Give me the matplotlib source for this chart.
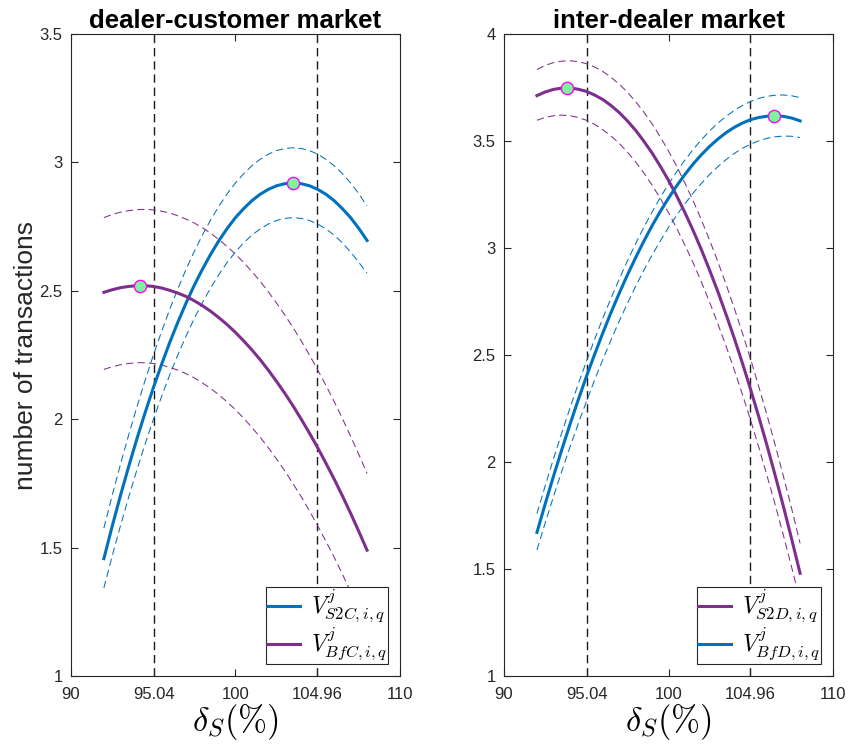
"""
Number of transactions vs. delta_S for the dealer-customer and
inter-dealer markets, with confidence bands and peak markers.
"""

import matplotlib
matplotlib.use("Agg")
import matplotlib.pyplot as plt


# ---------- DATA ----------
DELTA = [92, 92.5, 93, 93.5, 94, 94.5, 95, 95.5, 96, 96.5, 97, 97.5, 98, 98.5,
         99, 99.5, 100, 100.5, 101, 101.5, 102, 102.5, 103, 103.5, 104, 104.5,
         105, 105.5, 106, 106.5, 107, 107.5, 108]

# dealer-customer market
S2C = [1.457, 1.582, 1.701, 1.814, 1.922, 2.024, 2.121, 2.212, 2.298, 2.378,
       2.453, 2.522, 2.585, 2.643, 2.696, 2.743, 2.785, 2.820, 2.851, 2.876,
       2.895, 2.909, 2.917, 2.920, 2.917, 2.909, 2.895, 2.876, 2.851, 2.820,
       2.785, 2.743, 2.696]
S2C_HI = [1.576, 1.702, 1.822, 1.937, 2.046, 2.150, 2.248, 2.340, 2.427, 2.508,
          2.584, 2.654, 2.718, 2.777, 2.830, 2.878, 2.920, 2.956, 2.987, 3.012,
          3.032, 3.046, 3.054, 3.057, 3.054, 3.046, 3.032, 3.012, 2.987, 2.956,
          2.920, 2.878, 2.830]
S2C_LO = [1.343, 1.466, 1.583, 1.695, 1.801, 1.902, 1.997, 2.087, 2.172, 2.251,
          2.324, 2.393, 2.455, 2.512, 2.564, 2.611, 2.651, 2.687, 2.717, 2.741,
          2.760, 2.774, 2.782, 2.785, 2.782, 2.774, 2.760, 2.741, 2.717, 2.687,
          2.651, 2.611, 2.568]
BFC = [2.494, 2.504, 2.512, 2.517, 2.520, 2.520, 2.517, 2.511, 2.502, 2.491,
       2.478, 2.461, 2.442, 2.420, 2.395, 2.368, 2.338, 2.305, 2.270, 2.232,
       2.191, 2.147, 2.101, 2.052, 2.000, 1.946, 1.889, 1.829, 1.767, 1.702,
       1.634, 1.563, 1.490]
BFC_HI = [2.785, 2.797, 2.806, 2.812, 2.816, 2.817, 2.815, 2.810, 2.803, 2.792,
          2.779, 2.764, 2.745, 2.724, 2.699, 2.672, 2.643, 2.610, 2.575, 2.537,
          2.496, 2.452, 2.406, 2.357, 2.305, 2.250, 2.192, 2.132, 2.069, 2.003,
          1.934, 1.863, 1.789]
BFC_LO = [2.194, 2.204, 2.212, 2.217, 2.220, 2.220, 2.217, 2.211, 2.202, 2.191,
          2.177, 2.161, 2.141, 2.119, 2.095, 2.067, 2.037, 2.004, 1.968, 1.930,
          1.889, 1.845, 1.799, 1.749, 1.698, 1.643, 1.585, 1.525, 1.463, 1.397,
          1.329, 1.258, 1.184]
PEAKS_DC_X = [94.2, 103.5]
PEAKS_DC_Y = [2.52, 2.92]

# inter-dealer market
S2D = [3.712, 3.729, 3.741, 3.747, 3.748, 3.742, 3.732, 3.715, 3.694, 3.666,
       3.633, 3.594, 3.550, 3.499, 3.444, 3.382, 3.316, 3.243, 3.165, 3.081,
       2.992, 2.896, 2.796, 2.689, 2.578, 2.460, 2.337, 2.208, 2.074, 1.933,
       1.788, 1.636, 1.480]
S2D_HI = [3.834, 3.853, 3.866, 3.873, 3.875, 3.871, 3.861, 3.846, 3.825, 3.798,
          3.766, 3.728, 3.684, 3.635, 3.580, 3.519, 3.453, 3.381, 3.303, 3.220,
          3.131, 3.036, 2.936, 2.830, 2.718, 2.601, 2.478, 2.349, 2.215, 2.075,
          1.929, 1.778, 1.620]
S2D_LO = [3.597, 3.610, 3.618, 3.621, 3.618, 3.610, 3.597, 3.578, 3.553, 3.524,
          3.489, 3.448, 3.402, 3.351, 3.294, 3.232, 3.165, 3.092, 3.013, 2.930,
          2.841, 2.746, 2.646, 2.541, 2.430, 2.314, 2.193, 2.066, 1.933, 1.796,
          1.653, 1.504, 1.350]
BFD = [1.671, 1.804, 1.932, 2.055, 2.174, 2.288, 2.398, 2.502, 2.602, 2.698,
       2.788, 2.874, 2.955, 3.032, 3.104, 3.171, 3.233, 3.291, 3.344, 3.393,
       3.436, 3.475, 3.509, 3.539, 3.564, 3.584, 3.600, 3.610, 3.616, 3.618,
       3.615, 3.607, 3.594]
BFD_HI = [1.759, 1.888, 2.014, 2.134, 2.250, 2.362, 2.469, 2.572, 2.671, 2.765,
          2.854, 2.940, 3.020, 3.097, 3.168, 3.236, 3.299, 3.357, 3.411, 3.461,
          3.506, 3.547, 3.584, 3.615, 3.643, 3.666, 3.685, 3.699, 3.709, 3.714,
          3.715, 3.711, 3.703]
BFD_LO = [1.589, 1.715, 1.837, 1.955, 2.068, 2.177, 2.281, 2.382, 2.478, 2.570,
          2.658, 2.741, 2.821, 2.896, 2.967, 3.033, 3.096, 3.154, 3.207, 3.257,
          3.302, 3.344, 3.380, 3.413, 3.442, 3.466, 3.486, 3.501, 3.513, 3.520,
          3.523, 3.522, 3.516]
PEAKS_ID_X = [93.8, 106.4]
PEAKS_ID_Y = [3.748, 3.618]

BOUNDS = [95.04, 104.96]
XTICKS = [90, 95.04, 100, 104.96, 110]
XTICK_LABELS = ["90", "95.04", "100", "104.96", "110"]
YTICKS_DC = [1, 1.5, 2, 2.5, 3, 3.5]
YTICKS_ID = [1, 1.5, 2, 2.5, 3, 3.5, 4]
# --------------------------

BLUE = "#0072BD"
PURPLE = "#7E2F8E"
AXIS_GRAY = "#262626"

plt.rcParams["font.family"] = ["Liberation Sans", "DejaVu Sans"]
plt.rcParams["mathtext.fontset"] = "cm"


def draw_curve(ax, y, hi, lo, color, label):
    line, = ax.plot(DELTA, y, color=color, lw=2.2, label=label, zorder=3)
    for band in (hi, lo):
        ax.plot(DELTA, band, color=color, lw=0.75, dashes=(7, 4), zorder=2)
    return line


def style_axes(ax, yticks, ylim):
    ax.set_xlim(90, 110)
    ax.set_ylim(*ylim)
    ax.set_xticks(XTICKS)
    ax.set_xticklabels(XTICK_LABELS)
    ax.set_yticks(yticks)
    ax.set_yticklabels([f"{v:g}" for v in yticks])
    ax.tick_params(direction="in", top=True, right=True, length=5,
                   labelsize=12, colors=AXIS_GRAY, width=0.8)
    ax.tick_params(axis="x", pad=8)
    ax.tick_params(axis="y", pad=6)
    for sp in ax.spines.values():
        sp.set_color(AXIS_GRAY)
        sp.set_linewidth(0.8)
    for b in BOUNDS:
        ax.axvline(b, color="#1a1a1a", lw=1.0, dashes=(6, 3.5), zorder=1)
    ax.set_xlabel(r"$\delta_S(\%)$", fontsize=25, labelpad=0)


def add_peaks(ax, xs, ys):
    ax.plot(xs, ys, "o", ms=8.8, mfc="#7DF59A", mec="#FF00FF", mew=1.0, zorder=5)


def add_legend(ax, handles):
    leg = ax.legend(handles=handles, loc="lower right", fontsize=17,
                    fancybox=False, framealpha=1, edgecolor=AXIS_GRAY,
                    handlelength=1.4, handletextpad=0.45, borderpad=0.05,
                    labelspacing=0.0, borderaxespad=0.5)
    leg.get_frame().set_linewidth(0.8)
    leg.set_zorder(10)


fig = plt.figure(figsize=(8.5, 7.47), dpi=100)
ax1 = fig.add_axes([0.0835, 0.095, 0.387, 0.8595])
ax2 = fig.add_axes([0.593, 0.095, 0.387, 0.8595])

# --- left panel: dealer-customer market ---
l1 = draw_curve(ax1, S2C, S2C_HI, S2C_LO, BLUE, r"$V^j_{S2C,i,q}$")
l2 = draw_curve(ax1, BFC, BFC_HI, BFC_LO, PURPLE, r"$V^j_{BfC,i,q}$")
add_peaks(ax1, PEAKS_DC_X, PEAKS_DC_Y)
style_axes(ax1, YTICKS_DC, (1, 3.5))
ax1.set_title("dealer-customer market", fontsize=18.5, fontweight="bold", pad=4)
ax1.set_ylabel("number of transactions", fontsize=19, color=AXIS_GRAY, labelpad=1)
add_legend(ax1, [l1, l2])

# --- right panel: inter-dealer market ---
r1 = draw_curve(ax2, S2D, S2D_HI, S2D_LO, PURPLE, r"$V^j_{S2D,i,q}$")
r2 = draw_curve(ax2, BFD, BFD_HI, BFD_LO, BLUE, r"$V^j_{BfD,i,q}$")
add_peaks(ax2, PEAKS_ID_X, PEAKS_ID_Y)
style_axes(ax2, YTICKS_ID, (1, 4))
ax2.set_title("inter-dealer market", fontsize=18.5, fontweight="bold", pad=4)
add_legend(ax2, [r1, r2])

fig.savefig("out.png", dpi=100)
